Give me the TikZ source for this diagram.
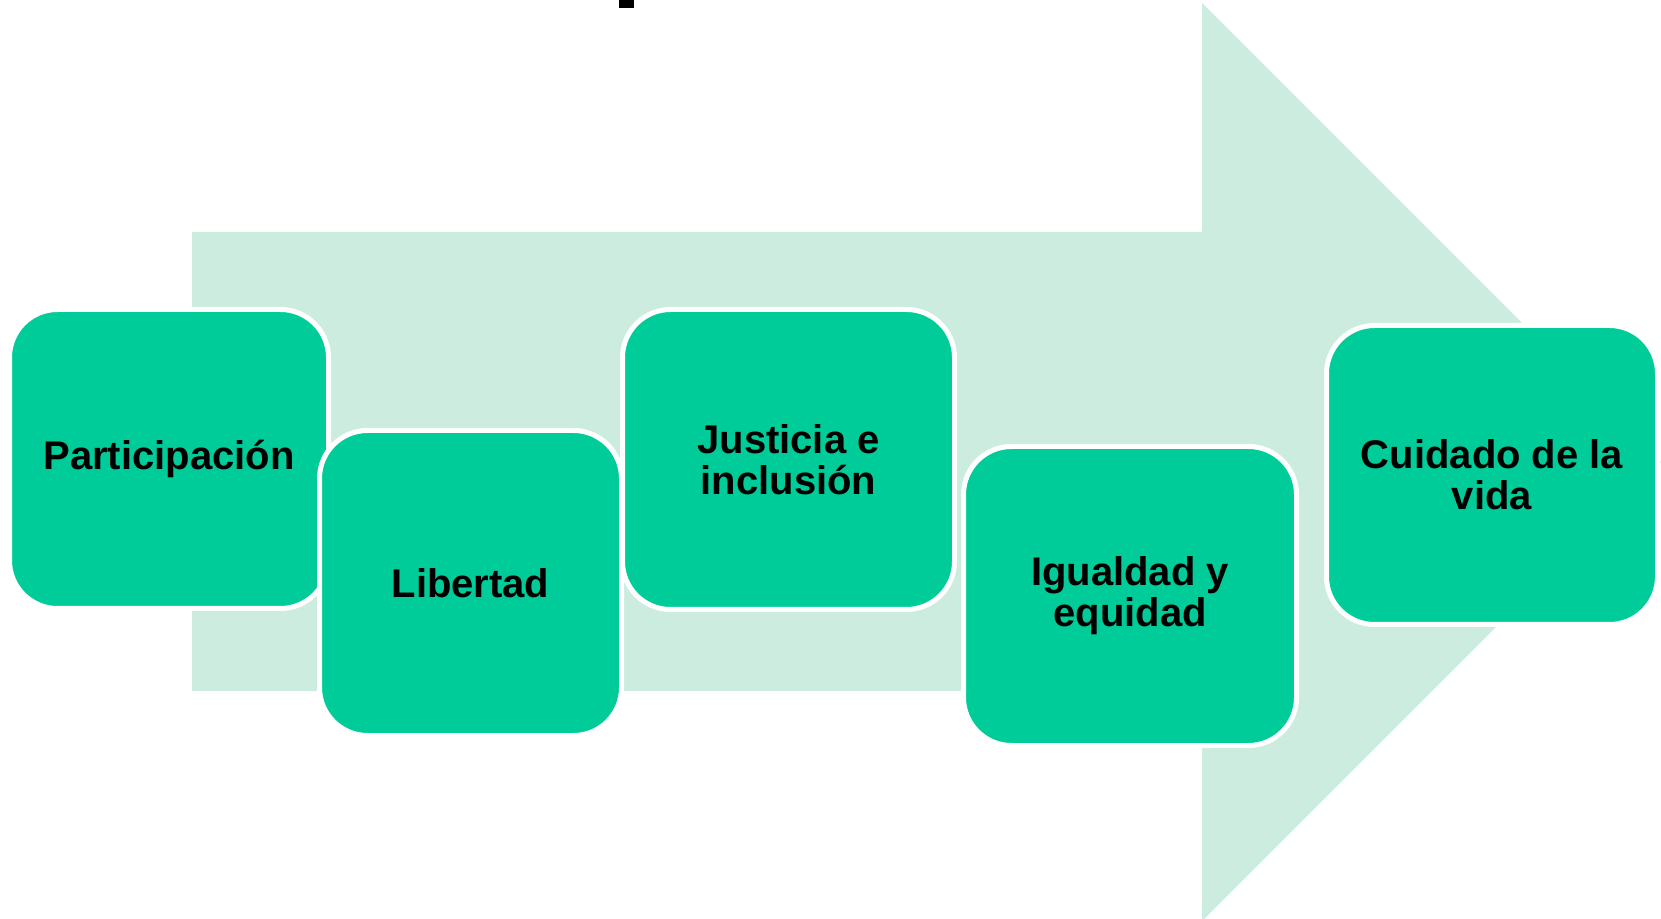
\documentclass[tikz,border=0pt]{standalone}
\usepackage{fontspec}
\setmainfont{Liberation Sans}
\usepackage{tikz}
\usetikzlibrary{shapes, backgrounds, calc}

\definecolor{verde}{RGB}{0,204,153}
\definecolor{verdeclaro}{RGB}{204,236,224}

\tikzset{
	valor/.style={rectangle, rounded corners=24pt, fill=verde, draw=white,
		line width=2.5pt, outer sep=0pt, inner sep=0pt, align=center,
		font=\bfseries\fontsize{20}{20.5}\selectfont}
}

\begin{document}
\begin{tikzpicture}[x=0.5pt, y=-0.5pt]
				\useasboundingbox (0,0) rectangle (1661,919);
				\clip (0,0) rectangle (1661,919);
				
				\coordinate (A) at (192, 232);
				\coordinate (B) at (1202, 232);
				\coordinate (C) at (1202, 3);
				\coordinate (D) at (1661, 462);
				\coordinate (E) at (1202, 921);
				\coordinate (F) at (1202, 691);
				\coordinate (G) at (192, 691);
				
				\fill[verdeclaro] (A) -- (B) -- (C) -- (D) -- (E) -- (F) -- (G) -- cycle;
				\fill[black] (619, 0) rectangle (634, 8);
				
				\node[valor, minimum width=159.5pt, minimum height=149.5pt] (P) at (169, 459) {Participación};
				\node[valor, minimum width=151pt, minimum height=152.5pt] (L) at (470.5, 583) {Libertad};
				\node[valor, minimum width=166pt, minimum height=150pt] (J) at (788.5, 459.5) {Justicia e\\inclusión};
				\node[valor, minimum width=166.5pt, minimum height=149.5pt] (I) at (1130, 596) {Igualdad y\\equidad};
				\node[valor, minimum width=165.5pt, minimum height=149.5pt] (V) at (1492, 475) {Cuidado de la\\vida};
			\end{tikzpicture}
\end{document}
